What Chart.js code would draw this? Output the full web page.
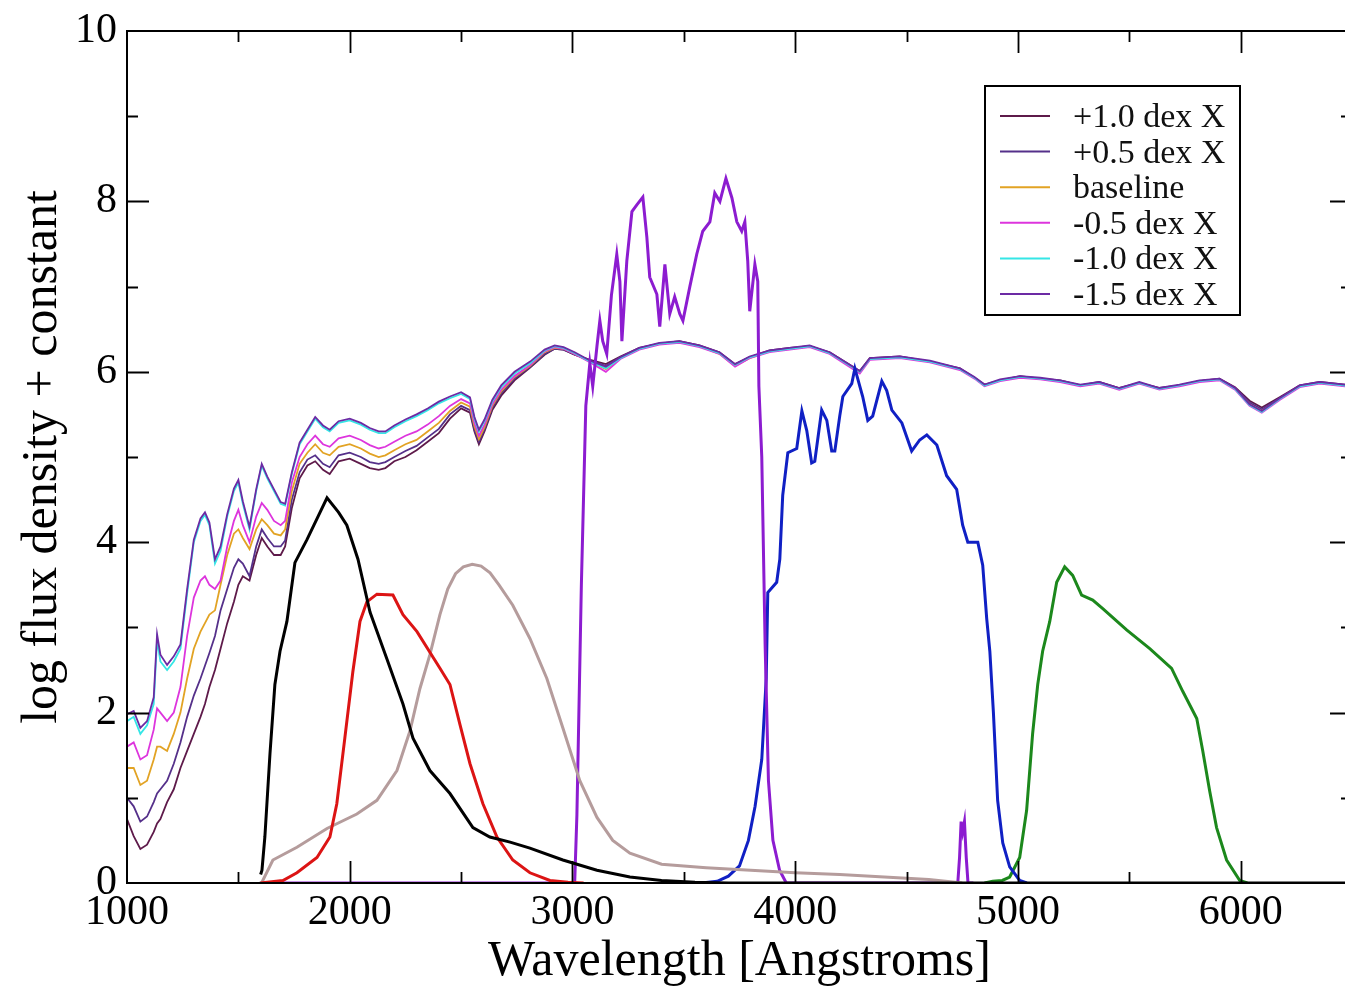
<!DOCTYPE html>
<html><head><meta charset="utf-8">
<script src="https://cdn.jsdelivr.net/npm/chart.js@4.4.1/dist/chart.umd.min.js"></script>
<style>
html,body{margin:0;padding:0;overflow:hidden;background:#fff;width:1345px;height:993px}
#wrap{position:absolute;left:0;top:0;width:1360px;height:993px}
</style>
</head><body><div id="wrap"><canvas id="c" width="1360" height="993"></canvas></div>
<script>
// ---------- data ----------
const xTickValues = [1000, 2000, 3000, 4000, 5000, 6000];
const yTickValues = [0, 2, 4, 6, 8, 10];
const seriesLabels = ['+1.0 dex X', '+0.5 dex X', 'baseline', '-0.5 dex X', '-1.0 dex X', '-1.5 dex X'];

const specWave = [1000,1030,1060,1090,1120,1135,1150,1180,1210,1240,1270,1300,1330,1350,1370,1395,1420,1450,1480,1500,1520,1550,1580,1605,1630,1660,1690,1710,1740,1775,1810,1845,1880,1910,1950,2000,2050,2090,2130,2160,2200,2250,2300,2350,2400,2450,2500,2540,2560,2580,2605,2640,2680,2740,2810,2875,2920,2960,3010,
3080,3150,3215,3300,3390,3480,3570,3660,3730,3795,3885,3975,4065,4155,4290,4335,4470,4605,4740,4805,4850,4920,5010,5100,5190,5280,5365,5455,5545,5635,5725,5815,5905,5975,6040,6095,6175,6265,6355,6500];

const specPlus10 = [0.75,0.55,0.4,0.45,0.6,0.7,0.75,0.95,1.1,1.35,1.55,1.75,1.95,2.1,2.3,2.5,2.75,3.05,3.3,3.5,3.6,3.55,3.85,4.05,3.95,3.85,3.85,3.95,4.4,4.75,4.9,4.95,4.85,4.8,4.95,4.98,4.92,4.87,4.85,4.87,4.95,5.0,5.08,5.18,5.28,5.45,5.57,5.52,5.3,5.15,5.3,5.55,5.72,5.9,6.05,6.2,6.27,6.26,6.2,
6.14,6.09,6.18,6.28,6.33,6.36,6.31,6.23,6.09,6.17,6.25,6.28,6.3,6.23,6.01,6.16,6.18,6.12,6.04,5.93,5.85,5.9,5.95,5.92,5.9,5.84,5.88,5.81,5.87,5.81,5.84,5.89,5.92,5.82,5.66,5.58,5.7,5.84,5.88,5.84];

const specPlus05 = [1.0,0.9,0.72,0.78,0.95,1.05,1.1,1.2,1.4,1.65,1.95,2.2,2.4,2.55,2.7,2.9,3.2,3.45,3.7,3.8,3.75,3.6,3.95,4.15,4.05,3.95,3.95,4.02,4.5,4.82,4.97,5.02,4.92,4.88,5.02,5.05,5.0,4.94,4.92,4.94,5.0,5.07,5.13,5.23,5.33,5.5,5.6,5.55,5.32,5.18,5.32,5.58,5.75,5.92,6.06,6.21,6.27,6.26,6.2,
6.13,6.07,6.17,6.27,6.33,6.35,6.3,6.22,6.08,6.17,6.24,6.27,6.3,6.22,6.0,6.15,6.17,6.12,6.03,5.93,5.84,5.9,5.94,5.92,5.89,5.84,5.87,5.8,5.87,5.8,5.84,5.89,5.91,5.81,5.64,5.56,5.69,5.83,5.87,5.83];

const specBaseline = [1.35,1.35,1.15,1.2,1.45,1.6,1.6,1.55,1.75,2.0,2.4,2.75,2.95,3.05,3.15,3.2,3.5,3.85,4.1,4.15,4.05,3.92,4.15,4.27,4.2,4.1,4.08,4.15,4.6,4.92,5.05,5.15,5.05,5.02,5.12,5.15,5.1,5.04,5.0,5.02,5.08,5.15,5.2,5.3,5.4,5.54,5.64,5.59,5.36,5.21,5.35,5.6,5.77,5.94,6.07,6.23,6.28,6.27,6.21,
6.12,6.03,6.16,6.27,6.33,6.35,6.3,6.21,6.07,6.16,6.24,6.27,6.3,6.22,5.99,6.15,6.17,6.12,6.03,5.93,5.84,5.9,5.94,5.92,5.89,5.84,5.87,5.8,5.87,5.8,5.84,5.89,5.91,5.8,5.62,5.54,5.68,5.83,5.87,5.83];

const specMinus05 = [1.6,1.65,1.45,1.5,1.8,2.05,2.0,1.9,2.0,2.3,2.9,3.35,3.55,3.6,3.5,3.45,3.55,3.95,4.25,4.38,4.2,4.0,4.3,4.46,4.38,4.25,4.2,4.25,4.7,5.0,5.15,5.25,5.15,5.12,5.22,5.25,5.2,5.14,5.1,5.12,5.18,5.25,5.3,5.38,5.48,5.6,5.68,5.63,5.4,5.25,5.38,5.62,5.79,5.95,6.08,6.24,6.29,6.27,6.21,
6.11,6.0,6.15,6.26,6.32,6.34,6.29,6.21,6.06,6.16,6.23,6.26,6.29,6.21,5.98,6.14,6.16,6.11,6.02,5.92,5.83,5.89,5.93,5.91,5.88,5.83,5.86,5.79,5.86,5.79,5.83,5.88,5.9,5.79,5.6,5.52,5.67,5.82,5.86,5.82];

const specMinus10 = [1.9,1.95,1.75,1.85,2.1,2.85,2.6,2.5,2.6,2.75,3.4,4.0,4.25,4.32,4.2,3.75,3.9,4.3,4.6,4.7,4.45,4.15,4.6,4.9,4.75,4.6,4.45,4.43,4.8,5.15,5.3,5.45,5.35,5.3,5.4,5.43,5.38,5.32,5.28,5.28,5.35,5.42,5.48,5.55,5.63,5.69,5.74,5.68,5.45,5.3,5.42,5.65,5.82,5.98,6.1,6.25,6.3,6.28,6.22,
6.12,6.04,6.16,6.27,6.33,6.35,6.3,6.22,6.08,6.17,6.24,6.27,6.3,6.22,6.0,6.15,6.17,6.12,6.03,5.93,5.84,5.9,5.94,5.92,5.89,5.84,5.87,5.8,5.87,5.8,5.84,5.89,5.91,5.8,5.61,5.53,5.68,5.83,5.87,5.83];

const specMinus15 = [1.98,2.02,1.82,1.9,2.18,2.92,2.68,2.56,2.66,2.8,3.45,4.03,4.28,4.35,4.23,3.8,3.95,4.33,4.63,4.73,4.48,4.18,4.62,4.92,4.77,4.62,4.47,4.45,4.82,5.17,5.32,5.47,5.37,5.32,5.42,5.45,5.4,5.34,5.3,5.3,5.37,5.44,5.5,5.57,5.65,5.71,5.76,5.7,5.47,5.32,5.44,5.67,5.84,6.0,6.12,6.26,6.31,6.29,6.23,
6.13,6.06,6.17,6.28,6.34,6.36,6.31,6.23,6.09,6.18,6.25,6.28,6.31,6.23,6.01,6.16,6.18,6.13,6.04,5.94,5.85,5.91,5.95,5.93,5.9,5.85,5.88,5.81,5.88,5.81,5.85,5.9,5.92,5.81,5.62,5.54,5.69,5.84,5.88,5.84];

// filter curves
const blackWave = [1600,1606,1619,1642,1664,1687,1718,1754,1808,1898,1950,1987,2037,2091,2167,2239,2284,2360,2450,2553,2629,2720,2809,2957,3110,3258,3400,3550,3700,6500];
const blackVals = [0.1,0.15,0.54,1.52,2.33,2.72,3.07,3.76,4.03,4.52,4.35,4.2,3.8,3.18,2.63,2.1,1.7,1.32,1.05,0.65,0.54,0.48,0.41,0.27,0.15,0.07,0.03,0.01,0,0];

const redWave = [1600,1700,1763,1853,1911,1942,1978,2014,2046,2077,2122,2194,2239,2302,2405,2450,2495,2540,2598,2661,2732,2809,2899,2980,3050];
const redVals = [0,0.03,0.12,0.3,0.54,0.93,1.7,2.48,3.07,3.3,3.39,3.38,3.15,2.95,2.52,2.33,1.86,1.4,0.93,0.54,0.27,0.12,0.03,0.01,0];

const brownWave = [1597,1606,1655,1763,1898,2032,2122,2212,2270,2315,2360,2405,2440,2475,2510,2550,2590,2630,2670,2732,2809,2885,2957,3033,3110,3181,3258,3400,3600,3800,4000,4200,4400,4600,4750];
const brownVals = [0,0.01,0.27,0.42,0.64,0.81,0.97,1.32,1.78,2.28,2.68,3.15,3.45,3.63,3.71,3.74,3.72,3.64,3.5,3.26,2.87,2.4,1.82,1.2,0.77,0.5,0.35,0.22,0.18,0.15,0.12,0.1,0.07,0.04,0];

const violetWave = [1600,3010,3020,3040,3060,3078,3091,3110,3123,3136,3154,3175,3199,3213,3222,3244,3267,3289,3316,3334,3347,3379,3392,3415,3437,3459,3482,3496,3527,3558,3585,3617,3639,3662,3689,3716,3738,3760,3774,3787,3796,3819,3832,3837,3850,3865,3880,3900,3930,3960,4730,4738,4745,4752,4760,4768,4776,4800];
const violetVals = [0,0,0.8,3.5,5.6,6.1,5.83,6.3,6.6,6.36,6.21,6.9,7.38,7.06,6.36,7.3,7.88,7.96,8.05,7.58,7.11,6.91,6.53,7.26,6.68,6.88,6.68,6.6,7.0,7.38,7.65,7.76,8.1,8.0,8.27,8.04,7.76,7.65,7.76,7.3,6.71,7.26,7.06,5.83,5.0,2.8,1.2,0.5,0.15,0,0,0.3,0.72,0.6,0.72,0.3,0,0];

const blueWave = [3580,3650,3700,3750,3790,3820,3850,3870,3877,3917,3931,3944,3967,4007,4030,4052,4074,4088,4119,4142,4164,4178,4200,4214,4254,4268,4303,4326,4348,4389,4411,4434,4479,4523,4559,4591,4636,4680,4725,4752,4775,4820,4842,4860,4874,4890,4909,4932,4963,5008,5040];
const blueVals = [0,0.02,0.08,0.2,0.5,0.9,1.45,2.4,3.41,3.53,3.8,4.55,5.05,5.1,5.54,5.31,4.93,4.95,5.55,5.43,5.07,5.07,5.48,5.71,5.86,6.04,5.71,5.43,5.48,5.89,5.78,5.55,5.4,5.07,5.2,5.26,5.14,4.78,4.62,4.2,4.0,4.0,3.73,3.1,2.72,2.0,0.97,0.47,0.19,0.03,0];

const greenWave = [4850,4887,4930,4963,5008,5039,5066,5089,5111,5143,5174,5210,5246,5286,5336,5381,5488,5592,5690,5740,5803,5830,5861,5892,5937,5996,6030];
const greenVals = [0,0.02,0.03,0.07,0.3,0.85,1.75,2.33,2.72,3.07,3.53,3.71,3.61,3.38,3.32,3.22,2.97,2.75,2.52,2.25,1.93,1.55,1.08,0.65,0.27,0.03,0];

// ---------- styling ----------
const FONT = '"Liberation Serif", "Times New Roman", serif';
const specColors = ['#5e1a4a', '#55308a', '#e2a324', '#dd35dd', '#35e6e6', '#6c2aa4'];
const specData = [specPlus10, specPlus05, specBaseline, specMinus05, specMinus10, specMinus15];

function pts(xs, ys) { return xs.map((x, i) => ({ x: x, y: ys[i] })); }

const datasets = [];
specData.forEach((vals, i) => {
  datasets.push({
    label: seriesLabels[i], data: pts(specWave, vals), borderColor: specColors[i],
    borderWidth: 1.8, inLegend: true, order: 20 - i
  });
});
const filters = [
  [blackWave, blackVals, '#000000'],
  [redWave, redVals, '#dc1414'],
  [brownWave, brownVals, '#b59c9c'],
  [violetWave, violetVals, '#8c1cd0'],
  [blueWave, blueVals, '#1020c4'],
  [greenWave, greenVals, '#1c881c']
];
filters.forEach((f, i) => {
  datasets.push({ label: 'f' + i, data: pts(f[0], f[1]), borderColor: f[2], borderWidth: 3, inLegend: false, order: 1 + i });
});

const framePlugin = {
  id: 'frame',
  afterDraw(chart) {
    const ctx = chart.ctx;
    const a = chart.chartArea;
    const xs = chart.scales.x, ys = chart.scales.y;
    ctx.save();
    ctx.strokeStyle = '#000';
    ctx.lineWidth = 2;
    ctx.strokeRect(a.left, a.top, a.right - a.left, a.bottom - a.top);
    ctx.lineWidth = 1.8;
    ctx.beginPath();
    for (let v = 1500; v < 6500; v += 500) {
      const px = Math.round(xs.getPixelForValue(v)) + 0.5;
      const len = (v % 1000 === 0) ? 22 : 11;
      ctx.moveTo(px, a.bottom); ctx.lineTo(px, a.bottom - len);
      ctx.moveTo(px, a.top); ctx.lineTo(px, a.top + len);
    }
    for (let v = 1; v < 10; v += 1) {
      const py = Math.round(ys.getPixelForValue(v)) + 0.5;
      const len = (v % 2 === 0) ? 22 : 11;
      ctx.moveTo(a.left, py); ctx.lineTo(a.left + len, py);
      ctx.moveTo(a.right, py); ctx.lineTo(a.right - len, py);
    }
    ctx.stroke();

    // legend
    const bx = 985, by = 86, bw = 255, bh = 229;
    ctx.fillStyle = '#fff';
    ctx.fillRect(bx, by, bw, bh);
    ctx.lineWidth = 2;
    ctx.strokeRect(bx, by, bw, bh);
    ctx.font = '34px ' + FONT;
    ctx.textBaseline = 'middle';
    ctx.textAlign = 'left';
    const items = chart.data.datasets.filter(d => d.inLegend);
    items.forEach((d, i) => {
      const yy = 116 + i * 35.6;
      ctx.strokeStyle = d.borderColor;
      ctx.lineWidth = 2;
      ctx.beginPath(); ctx.moveTo(1000, yy); ctx.lineTo(1050, yy); ctx.stroke();
      ctx.fillStyle = '#111';
      ctx.fillText(d.label, 1073, yy + 2);
    });
    ctx.restore();
  }
};

new Chart(document.getElementById('c').getContext('2d'), {
  type: 'line',
  data: { datasets: datasets },
  options: {
    responsive: false, animation: false, devicePixelRatio: 1,
    layout: { padding: { top: 25, right: 8, left: 0, bottom: 0 } },
    plugins: { legend: { display: false }, tooltip: { enabled: false } },
    elements: { point: { radius: 0 }, line: { tension: 0, fill: false } },
    scales: {
      x: {
        type: 'linear', min: 1000, max: 6500,
        grid: { display: false, drawTicks: false }, border: { display: false },
        afterBuildTicks(s) { s.ticks = xTickValues.map(v => ({ value: v })); },
        ticks: {
          autoSkip: false, maxRotation: 0, padding: 9, color: '#000',
          font: { family: FONT, size: 42, lineHeight: 1 },
          callback: v => String(v)
        },
        title: { display: true, text: 'Wavelength [Angstroms]', color: '#000',
          font: { family: FONT, size: 50, lineHeight: 1 }, padding: { top: 0, bottom: 6 } },
        afterFit(s) { s.height = 110; }
      },
      y: {
        type: 'linear', min: 0, max: 10,
        grid: { display: false, drawTicks: false }, border: { display: false },
        afterBuildTicks(s) { s.ticks = yTickValues.map(v => ({ value: v })); },
        ticks: {
          padding: 10, color: '#000',
          font: { family: FONT, size: 42, lineHeight: 1 },
          callback: v => String(v)
        },
        title: { display: true, text: 'log flux density + constant', color: '#000',
          font: { family: FONT, size: 50, lineHeight: 1 }, padding: { top: 18, bottom: 0 } },
        afterFit(s) { s.width = 127; }
      }
    }
  },
  plugins: [framePlugin]
});
</script>
</body></html>
